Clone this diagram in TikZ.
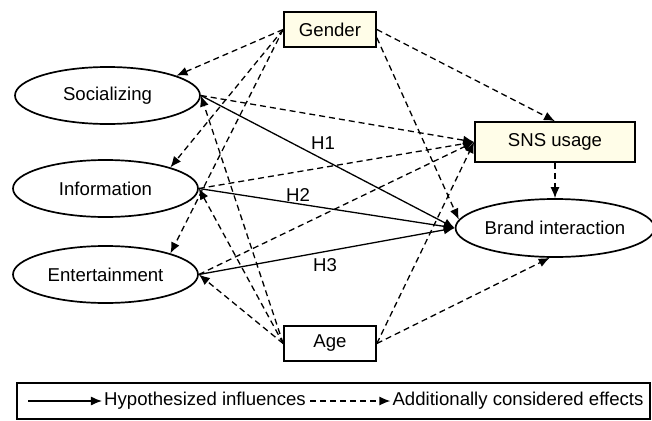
\documentclass[tikz,border=0pt]{standalone}
\usepackage{fontspec}
\setmainfont{Liberation Sans}
\usetikzlibrary{shapes,arrows.meta}

\definecolor{boxfill}{RGB}{255,253,232}

\begin{document}
\begin{tikzpicture}[x=1pt,y=-1pt,
        font=\fontsize{18.6}{22}\selectfont,
        motive/.style={ellipse, draw, line width=1.7pt, minimum width=185pt, minimum height=57pt, inner sep=0pt},
        ctrlbox/.style={rectangle, draw, line width=1.7pt, minimum width=92pt, minimum height=35pt, inner sep=0pt},
        hypline/.style={-{Latex[length=11pt,width=9pt]}, line width=1.3pt},
        addline/.style={hypline, dash pattern=on 6pt off 4pt}]
        \useasboundingbox (0,0) rectangle (652,420);

        % Motives on the left
        \node[motive] (soc) at (107.5,95.5) {Socializing};
        \node[motive] (info) at (105.5,188.5) {Information};
        \node[motive] (ent) at (105.5,274.5) {Entertainment};

        % Control variables
        \node[ctrlbox, fill=boxfill] (gender) at (330,29.5) {Gender};
        \node[ctrlbox] (age) at (330,343.5) {Age};

        % Usage and outcome
        \node[rectangle, draw, line width=1.7pt, fill=boxfill, minimum width=160pt, minimum height=40pt] (sns) at (555,142) {SNS usage};
        \node[motive, minimum width=184pt, minimum height=58pt] (brand) at (555,228) {Brand interaction};

        % Hypothesized influences
        \draw[hypline] (soc.east) -- (brand.west);
        \draw[hypline] (info.east) -- (brand.west);
        \draw[hypline] (ent.east) -- (brand.west);
        \node (h1) at (323,143) {H1};
        \node (h2) at (298,195) {H2};
        \node (h3) at (325,265) {H3};

        % Effects of gender
        \draw[addline] (gender.west) -- (soc.16);
        \draw[addline] (gender.west) -- (info.18);
        \draw[addline] (gender.west) -- (ent.18);
        \draw[addline] (gender.east) -- (sns.north);
        \draw[addline] (gender.-10) -- (brand.175);

        % Effects of age
        \draw[addline] (age.west) -- (soc.east);
        \draw[addline] (age.west) -- (info.east);
        \draw[addline] (age.west) -- (ent.east);
        \draw[addline] (age.east) -- (sns.west);
        \draw[addline] (age.east) -- (brand.260);

        % Motives on SNS usage
        \draw[addline] (soc.east) -- (sns.west);
        \draw[addline] (info.east) -- (sns.west);
        \draw[addline] (ent.east) -- (sns.west);
        \draw[addline] (sns.south) -- (brand.north);

        % Legend
        \node[draw, line width=1.3pt, minimum width=633pt, minimum height=36pt] (legend) at (333.5,401) {};
        \coordinate (hstart) at (28,401);
        \coordinate (astart) at (310,401);
        \node[inner sep=2pt] (hyptext) at (205,401) {Hypothesized influences};
        \node[inner sep=2pt] (addtext) at (518,401) {Additionally considered effects};
        \draw[hypline] (hstart) -- (hyptext.west);
        \draw[addline] (astart) -- (addtext.west);
\end{tikzpicture}
\end{document}
